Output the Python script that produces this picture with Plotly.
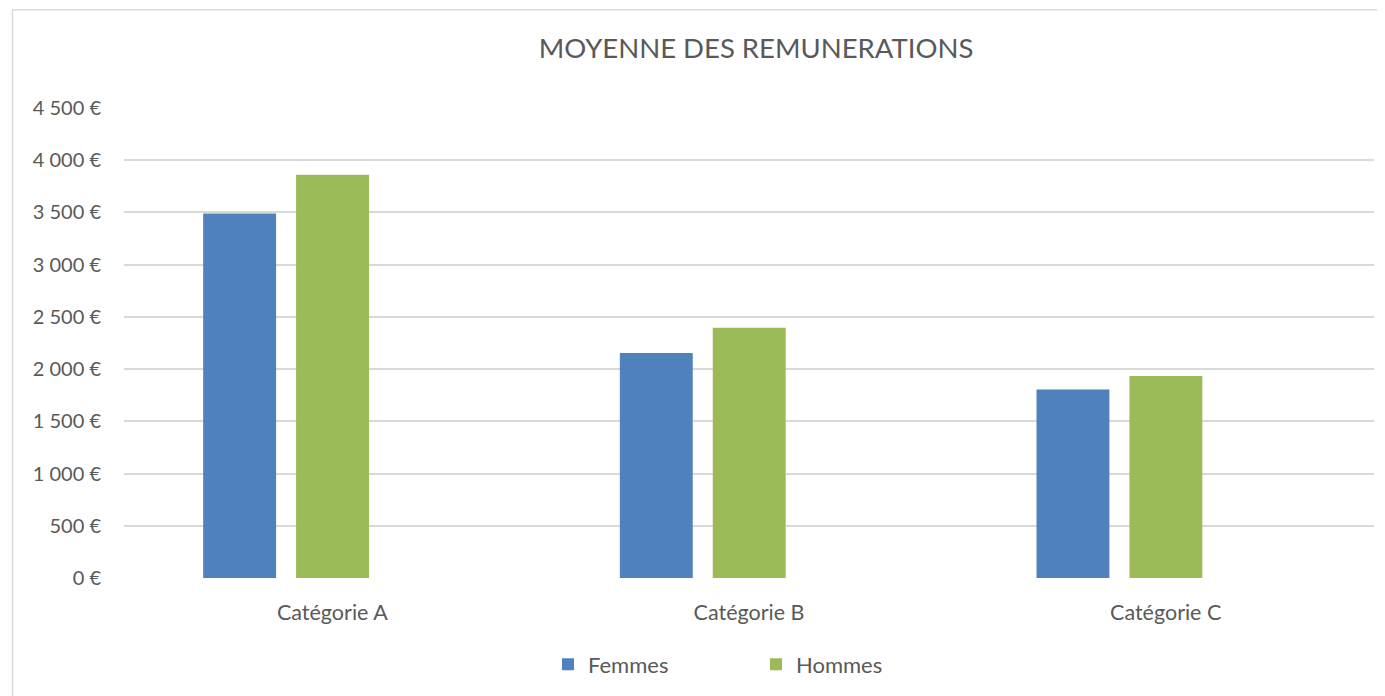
import plotly.graph_objects as go

categories = ["Catégorie A", "Catégorie B", "Catégorie C"]
femmes = [3490, 2155, 1805]
hommes = [3860, 2395, 1935]
y_ticks = [0, 500, 1000, 1500, 2000, 2500, 3000, 3500, 4000, 4500]
y_tick_labels = [f"{v:,} €".replace(",", " ") for v in y_ticks]

# the page body adds an 8px offset; work in screenshot pixels and shift
OFF = 8
W, H = 1385 - OFF, 696 - OFF
L, R, T, B = 124 - OFF, 1374 - OFF, 108 - OFF, 581 - OFF
pw, ph = R - L, B - T

def px_x(x):
    return (x - OFF - L) / pw

def px_y(y):
    return (B - (y - OFF)) / ph

TXT = "#595959"
FONT = "Lato"

fig = go.Figure()
fig.add_trace(go.Bar(x=categories, y=femmes, name="Femmes",
                     marker=dict(color="#4F81BD", line=dict(width=0)),
                     width=0.175, offset=-0.31))
fig.add_trace(go.Bar(x=categories, y=hommes, name="Hommes",
                     marker=dict(color="#9BBB59", line=dict(width=0)),
                     width=0.175, offset=-0.087))

fig.update_layout(
    width=W, height=H,
    margin=dict(l=L, r=W - R, t=T, b=H - B),
    paper_bgcolor="white", plot_bgcolor="white",
    barmode="overlay",
    font=dict(family=FONT, color=TXT, size=20),
    title=dict(text="MOYENNE DES REMUNERATIONS", font=dict(size=27.5, color=TXT, family=FONT),
               x=px_x(756), xref="paper", xanchor="center",
               y=1 - (48 - OFF) / H, yref="container", yanchor="middle"),
    showlegend=True,
    legend=dict(orientation="h", x=px_x(548), xanchor="left", y=px_y(668), yanchor="middle",
                font=dict(size=22, color=TXT, family=FONT), entrywidth=163, entrywidthmode="pixels",
                bgcolor="rgba(0,0,0,0)", traceorder="normal"),
    xaxis=dict(type="category", showgrid=False, showline=False, ticks="",
               tickfont=dict(size=21.5, color=TXT), ticklabelstandoff=19, zeroline=False),
    yaxis=dict(range=[0, 4500], tickvals=y_ticks, ticktext=y_tick_labels,
               showgrid=True, gridcolor="#D9D9D9", gridwidth=1.5, zeroline=False,
               showline=False, ticks="", tickfont=dict(size=20, color=TXT),
               ticklabelstandoff=22),
    shapes=[
        dict(type="line", xref="paper", yref="paper", x0=px_x(12), x1=px_x(1400),
             y0=px_y(9), y1=px_y(9), line=dict(color="#D9D9D9", width=1.5)),
        dict(type="line", xref="paper", yref="paper", x0=px_x(12.5), x1=px_x(12.5),
             y0=px_y(9), y1=px_y(710), line=dict(color="#D9D9D9", width=1.5)),
    ],
)

fig.write_html("out.html")
